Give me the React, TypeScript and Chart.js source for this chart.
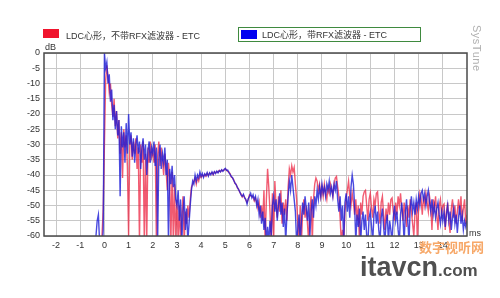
import React, { useEffect, useRef } from "react";
import { Chart, registerables } from "chart.js";

Chart.register(...registerables);

// Time grid of the ETC samples (ms)
const timeStartMs = -1;
const sampleStepMs = 0.05;

// X tick labels (ms) and Y tick range (dB)
const xTickValues = [-2, -1, 0, 1, 2, 3, 4, 5, 6, 7, 8, 9, 10, 11, 12, 13, 14];
const xMin = -2.5;
const xMax = 15;
const yMin = -60;
const yMax = 0;
const yStep = 5;

const seriesRedLabel = "LDC心形，不带RFX滤波器 - ETC";
const seriesBlueLabel = "LDC心形，带RFX滤波器 - ETC";

// Red series: without RFX filter (dB), one row per ms from -1 ms
const redDb = [
  -70, -70, -70, -70, -70, -70, -70, -70, -70, -70, -70, -70, -70, -70, -70, -70, -70, -68, -60, -51,
  -30, -9, -4, -8, -13, -10, -17, -21, -15, -24, -19, -28, -22, -33, -26, -41, -25, -31, -27, -37,
  -60, -30, -27, -35, -29, -33, -28, -38, -31, -62, -30, -36, -29, -62, -33, -62, -31, -36, -29, -34,
  -32, -36, -30, -62, -34, -29, -37, -31, -35, -40, -33, -38, -45, -36, -41, -62, -39, -62, -43, -62,
  -48, -62, -50, -62, -53, -47, -62, -52, -56, -50, -54, -48, -44, -43, -42, -41, -43, -41, -42, -40,
  -40.8, -40.0, -40.5, -39.8, -40.4, -39.5, -40.1, -39.4, -39.6, -39.2, -39.9, -39.0, -39.3, -38.9, -39.1, -38.5, -38.9, -38.4, -38.6, -38.4,
  -38.0, -38.3, -38.8, -39.0, -39.6, -40.7, -41.0, -41.6, -42.8, -43.0, -44.2, -44.6, -45.7, -46.2, -47.2, -46.6, -47.3, -48.3, -49.0, -48.0,
  -46.5, -46.8, -47, -47.2, -48.5, -47.5, -49, -51, -49, -54, -50, -55, -45, -62, -48, -38, -44, -52, -62, -46,
  -62, -42, -50, -54, -47, -52, -45, -56, -49, -53, -48, -55, -44, -38, -40, -37, -39, -37.5, -43, -48,
  -56, -62, -50, -62, -52, -48, -54, -50, -56, -62, -52, -47, -62, -48, -43, -41, -42, -45, -43, -47,
  -44, -47, -43, -46, -48, -44, -46, -43, -45, -47, -43, -41, -40.5, -44, -47, -54, -62, -58, -62, -52,
  -48, -45, -42, -47, -50, -46, -49, -53, -48, -55, -50, -62, -49, -53, -47, -45.5, -45, -50, -55, -48,
  -46, -51, -54, -48, -50, -46, -45.5, -52, -56, -49, -47, -53, -58, -51, -55, -49, -53, -48, -47.5, -52,
  -55, -49, -53, -47, -50, -46, -51, -55, -49, -53, -57, -50, -54, -48, -52, -56, -60, -52, -49, -62,
  -50, -46, -48, -53, -47, -50, -46, -49, -52, -47, -50, -58, -48, -51, -47, -53, -58, -50, -48, -53,
  -50, -49.5, -58, -52, -49, -55, -59, -51, -48, -54, -50, -56, -52, -48, -53, -47, -55, -51, -48, -56,
  -53,
];

// Blue series: with RFX filter (dB), one row per ms from -1 ms
const blueDb = [
  -70, -70, -70, -70, -70, -70, -70, -70, -70, -70, -70, -70, -66, -60, -55, -53, -62, -68, -66, -58,
  0, -5, -3, -10, -7, -16, -12, -22, -17, -25, -19, -27, -22, -47, -24, -31, -26, -36, -23, -33,
  -20, -30, -26, -34, -28, -36, -30, -27, -33, -29, -38, -31, -28, -35, -30, -40, -32, -29, -36, -31,
  -33, -29, -37, -31, -62, -35, -30, -38, -33, -36, -31, -40, -35, -62, -38, -43, -37, -44, -40, -48,
  -50, -45, -55, -48, -62, -52, -47, -58, -51, -62, -56, -50, -45, -42, -43, -40, -42, -40, -41, -39,
  -40.5, -39.5, -40.8, -39.6, -40.2, -39.2, -40.4, -39.3, -39.9, -39.0, -39.8, -38.9, -39.5, -38.7, -39.3, -38.6, -39.0, -38.3, -38.8, -38.2,
  -37.8, -38.5, -38.4, -39.2, -39.8, -40.5, -40.9, -41.8, -42.6, -43.2, -44.0, -44.8, -45.5, -46.5, -47.0, -46.3, -47.5, -48.0, -49.5, -47.8,
  -47, -46, -47.5, -46.5, -48, -47, -50, -48, -53, -50, -56, -52, -58, -54, -62, -57, -62, -55, -60, -50,
  -47, -52, -48, -55, -50, -46, -53, -49, -57, -51, -62, -53, -47, -42, -45, -40, -44, -48, -52, -62,
  -58, -53, -62, -55, -49, -53, -47, -51, -55, -49, -60, -52, -48, -54, -47, -50, -45, -48, -44, -47,
  -43, -46, -44, -47, -43, -45, -42, -46, -44, -47, -43, -45, -42, -48, -52, -47, -55, -50, -62, -49,
  -46, -52, -47, -54, -44, -40, -43, -50, -62, -53, -57, -51, -62, -55, -52, -58, -53, -60, -62, -54,
  -52, -57, -62, -53, -50, -56, -52, -58, -62, -54, -51, -57, -62, -56, -53, -62, -55, -58, -62, -54,
  -50, -55, -52, -58, -62, -53, -49, -54, -62, -52, -48, -55, -62, -51, -47, -52, -49, -53, -48, -51,
  -47, -50, -46, -45, -48, -46, -50, -47, -45, -49, -52, -48, -53, -50, -54, -51, -49, -53, -56, -52,
  -55, -52, -57, -53, -50, -55, -52, -58, -54, -51, -56, -53, -59, -54, -50, -56, -53, -58, -55, -57,
  -55,
];

const redColor = "rgba(236, 28, 58, 0.72)";
const blueColor = "rgba(28, 28, 215, 0.8)";

const toPoints = (values: number[]) =>
  values.map((y, i) => ({ x: timeStartMs + i * sampleStepMs, y }));

const frameBorder = {
  id: "frameBorder",
  afterDatasetsDraw(chart: any) {
    const { ctx, chartArea } = chart;
    ctx.save();
    ctx.strokeStyle = "#4a4a4a";
    ctx.lineWidth = 1.5;
    ctx.strokeRect(chartArea.left, chartArea.top, chartArea.right - chartArea.left, chartArea.bottom - chartArea.top);
    ctx.restore();
  },
};

const font = '"Liberation Sans", "Noto Sans CJK SC", sans-serif';

export default function App() {
  const canvasRef = useRef<HTMLCanvasElement | null>(null);

  useEffect(() => {
    if (!canvasRef.current) return;
    const chart = new Chart(canvasRef.current, {
      type: "line",
      data: {
        datasets: [
          {
            label: seriesBlueLabel,
            data: toPoints(blueDb),
            borderColor: blueColor,
            borderWidth: 1.4,
            pointRadius: 0,
            tension: 0,
            clip: 0,
          },
          {
            label: seriesRedLabel,
            data: toPoints(redDb),
            borderColor: redColor,
            borderWidth: 1.4,
            pointRadius: 0,
            tension: 0,
            clip: 0,
          },
        ],
      },
      options: {
        animation: false,
        responsive: false,
        events: [],
        layout: { padding: { top: 53, right: 33, left: 0, bottom: 0 } },
        plugins: { legend: { display: false }, tooltip: { enabled: false } },
        scales: {
          x: {
            type: "linear",
            min: xMin,
            max: xMax,
            afterBuildTicks: (scale: any) => {
              scale.ticks = xTickValues.map((v) => ({ value: v }));
            },
            afterFit: (scale: any) => {
              scale.height = 62;
            },
            grid: { color: "#c8c8c8", lineWidth: 1, drawTicks: false },
            border: { display: false },
            ticks: {
              padding: 4,
              color: "#333",
              font: { family: font, size: 9 },
              maxRotation: 0,
              autoSkip: false,
            },
          },
          y: {
            type: "linear",
            min: yMin,
            max: yMax,
            afterFit: (scale: any) => {
              scale.width = 44;
            },
            grid: { color: "#c8c8c8", lineWidth: 1, drawTicks: false },
            border: { display: false },
            ticks: {
              stepSize: yStep,
              padding: 4,
              color: "#333",
              font: { family: font, size: 9 },
            },
          },
        },
      },
      plugins: [frameBorder],
    });
    return () => chart.destroy();
  }, []);

  const textStyle: React.CSSProperties = {
    position: "absolute",
    fontFamily: font,
    fontSize: 9,
    color: "#333",
    whiteSpace: "nowrap",
    lineHeight: "10px",
  };

  return (
    <div style={{ position: "fixed", left: 0, top: 0, width: 500, height: 298, background: "#fff", overflow: "hidden" }}>
      <canvas ref={canvasRef} width={500} height={298} style={{ position: "absolute", left: 0, top: 0 }} />
      {/* legend 1 */}
      <div style={{ position: "absolute", left: 43, top: 29, width: 16, height: 9, background: "#f0142d" }} />
      <div style={{ ...textStyle, left: 66, top: 31 }}>{seriesRedLabel}</div>
      {/* legend 2 */}
      <div style={{ position: "absolute", left: 238, top: 27, width: 181, height: 13, border: "1.5px solid #3f8a3f" }} />
      <div style={{ position: "absolute", left: 241, top: 30, width: 16, height: 9, background: "#0000f0" }} />
      <div style={{ ...textStyle, left: 262, top: 30 }}>{seriesBlueLabel}</div>
      {/* axis units */}
      <div style={{ ...textStyle, left: 45, top: 42 }}>dB</div>
      <div style={{ ...textStyle, left: 469, top: 228 }}>ms</div>
      {/* brand */}
      <div
        style={{
          position: "absolute",
          left: 482,
          top: 25,
          transformOrigin: "0 0",
          transform: "rotate(90deg)",
          fontFamily: font,
          fontSize: 11,
          color: "#b0b0b0",
          whiteSpace: "nowrap",
          lineHeight: "11px",
          letterSpacing: 0.5,
        }}
      >
        SysTune
      </div>
      {/* watermark */}
      <div
        style={{
          position: "absolute",
          left: 419,
          top: 239,
          fontFamily: '"Noto Sans CJK SC", sans-serif',
          fontSize: 13,
          fontWeight: 700,
          color: "#f7a868",
          whiteSpace: "nowrap",
          lineHeight: "16px",
        }}
      >
        数字视听网
      </div>
      <div
        style={{
          position: "absolute",
          left: 360,
          top: 252,
          fontFamily: '"Liberation Sans", sans-serif',
          fontWeight: 700,
          color: "#505050",
          whiteSpace: "nowrap",
          lineHeight: "30px",
        }}
      >
        <span style={{ fontSize: 27 }}>itavcn</span>
        <span style={{ fontSize: 17 }}>.com</span>
      </div>
    </div>
  );
}
